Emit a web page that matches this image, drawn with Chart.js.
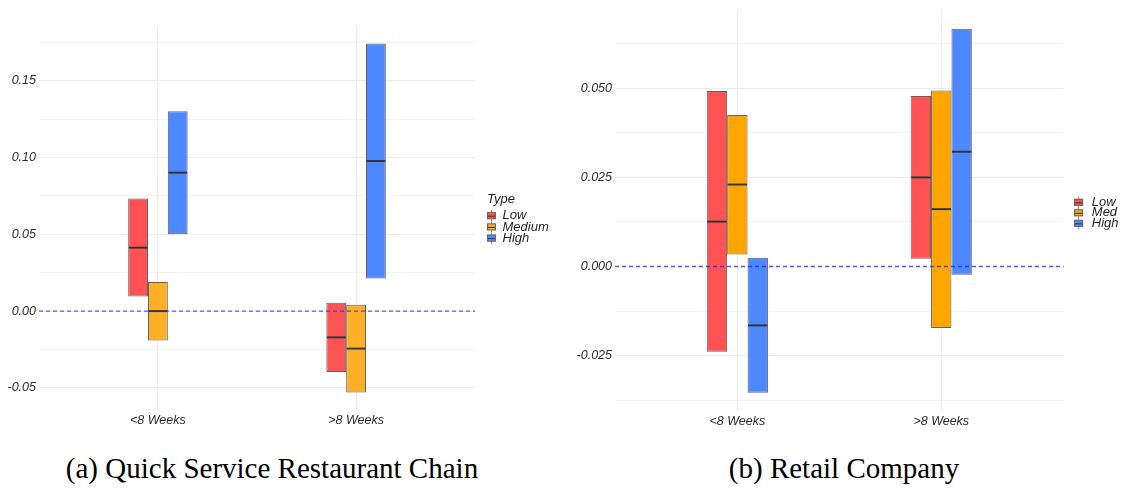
<!DOCTYPE html>
<html>
<head>
<meta charset="utf-8">
<script src="https://cdn.jsdelivr.net/npm/chart.js@4.4.1/dist/chart.umd.min.js"></script>
<style>
  html, body { margin: 0; padding: 0; background: #fff; }
  #fig { position: relative; width: 1121px; height: 491px; overflow: hidden; background: #fff; }
  #qsr { position: absolute; left: 0; top: 0; }
  #retail { position: absolute; left: 560px; top: 0; }
  .cap {
    position: absolute; top: 454px;
    font-family: "Liberation Serif", "Times New Roman", serif;
    font-size: 29px; line-height: 29px; color: #000;
    white-space: nowrap; transform: translateX(-50%);
  }
</style>
</head>
<body>
<div id="fig">
  <canvas id="qsr" width="560" height="440"></canvas>
  <canvas id="retail" width="561" height="440"></canvas>
  <div class="cap" style="left:272px">(a) Quick Service Restaurant Chain</div>
  <div class="cap" style="left:844px">(b) Retail Company</div>
</div>
<script>
// Duration groups shared by both panels
const weekGroups = ['<8 Weeks', '>8 Weeks'];

// (a) Quick service restaurant chain: [lower, upper] per group, and medians
const qsrTypes = ['Low', 'Medium', 'High'];
const qsrLowRange = [[0.0095, 0.0733], [-0.0396, 0.0054]];
const qsrLowMedian = [0.0413, -0.0171];
const qsrMediumRange = [[-0.0192, 0.0190], [-0.0530, 0.0041]];
const qsrMediumMedian = [0.0000, -0.0244];
const qsrHighRange = [[0.0501, 0.1300], [0.0212, 0.1742]];
const qsrHighMedian = [0.0901, 0.0977];
const qsrMajorTicks = [-0.05, 0, 0.05, 0.10, 0.15];
const qsrTickLabels = ['-0.05', '0.00', '0.05', '0.10', '0.15'];
const qsrMinorTicks = [-0.025, 0.025, 0.075, 0.125, 0.175];

// (b) Retail company
const retailTypes = ['Low', 'Med', 'High'];
const retailLowRange = [[-0.0239, 0.0492], [0.0022, 0.0478]];
const retailLowMedian = [0.0126, 0.0250];
const retailMedRange = [[0.0034, 0.0425], [-0.0172, 0.0494]];
const retailMedMedian = [0.0230, 0.0161];
const retailHighRange = [[-0.0354, 0.0025], [-0.0023, 0.0667]];
const retailHighMedian = [-0.0165, 0.0322];
const retailMajorTicks = [-0.025, 0, 0.025, 0.05];
const retailTickLabels = ['-0.025', '0.000', '0.025', '0.050'];
const retailMinorTicks = [-0.0375, -0.0125, 0.0125, 0.0375, 0.0625];

// Reference line
const zeroLine = 0;

Chart.defaults.font.family = '"Liberation Sans", Arial, sans-serif';
Chart.defaults.animation = false;

const TICK_FONT = { family: '"Liberation Sans", Arial, sans-serif', size: 12.5, style: 'italic' };
const TICK_COLOR = '#2b2b2b';
const GRID = '#ebebeb';

// Median bars and the dashed zero line, drawn on top of the boxes
const boxMarks = {
  id: 'boxMarks',
  afterDatasetsDraw(chart, args, o) {
    const ctx = chart.ctx, y = chart.scales.y, area = chart.chartArea;
    ctx.save();
    o.medians.forEach((vals, di) => {
      const meta = chart.getDatasetMeta(di);
      meta.data.forEach((bar, j) => {
        const py = y.getPixelForValue(vals[j]);
        const half = bar.width / 2;
        ctx.strokeStyle = '#333';
        ctx.lineWidth = 1.9;
        ctx.beginPath();
        ctx.moveTo(bar.x - half + 0.5, py);
        ctx.lineTo(bar.x + half - 0.5, py);
        ctx.stroke();
      });
    });
    const p0 = y.getPixelForValue(o.refValue);
    ctx.setLineDash([4, 3]);
    ctx.strokeStyle = 'rgba(35,35,255,0.75)';
    ctx.lineWidth = 1.4;
    ctx.beginPath();
    ctx.moveTo(area.left, p0);
    ctx.lineTo(area.right, p0);
    ctx.stroke();
    ctx.restore();
  }
};

// Legend with small box-plot keys
const boxLegend = {
  id: 'boxLegend',
  afterDraw(chart, args, o) {
    const ctx = chart.ctx;
    const x0 = chart.chartArea.right + o.offset;
    ctx.save();
    ctx.font = 'italic 13px "Liberation Sans", Arial, sans-serif';
    ctx.textBaseline = 'middle';
    ctx.textAlign = 'left';
    ctx.fillStyle = '#1e1e1e';
    if (o.title) ctx.fillText(o.title, x0, o.titleY);
    chart.data.datasets.forEach((ds, i) => {
      const cy = o.firstY + i * o.gap;
      ctx.strokeStyle = '#888';
      ctx.lineWidth = 1;
      ctx.beginPath();
      ctx.moveTo(x0 + 4.5, cy - 5.5);
      ctx.lineTo(x0 + 4.5, cy + 5.5);
      ctx.stroke();
      ctx.fillStyle = ds.backgroundColor;
      ctx.fillRect(x0, cy - 3.5, 9, 7);
      ctx.strokeStyle = '#666';
      ctx.strokeRect(x0 + 0.5, cy - 3, 8, 6);
      ctx.strokeStyle = '#333';
      ctx.beginPath();
      ctx.moveTo(x0 + 1, cy + 0.5);
      ctx.lineTo(x0 + 8, cy + 0.5);
      ctx.stroke();
      ctx.fillStyle = '#1e1e1e';
      ctx.fillText(ds.label, x0 + o.textGap, cy);
    });
    ctx.restore();
  }
};

function buildBoxChart(id, p) {
  const lows = p.ranges.flat().map(r => r[0]);
  const highs = p.ranges.flat().map(r => r[1]);
  const lo = Math.min(...lows), hi = Math.max(...highs);
  const pad = (hi - lo) * 0.05;
  const allTicks = p.major.concat(p.minor).sort((a, b) => a - b);
  const isMajor = v => p.major.some(m => Math.abs(m - v) < 1e-9);

  const datasets = p.types.map((t, i) => ({
    label: t,
    data: p.ranges[i].map((r, j) => ({ x: j + 1, y: [r[0], r[1]] })),
    backgroundColor: p.colors[i],
    borderColor: '#626262',
    borderWidth: 1,
    borderSkipped: false,
    categoryPercentage: 0.3,
    barPercentage: 1.0
  }));

  return new Chart(document.getElementById(id), {
    type: 'bar',
    data: { datasets },
    plugins: [boxMarks, boxLegend],
    options: {
      responsive: false,
      animation: false,
      layout: { padding: { top: p.padTop, right: p.padRight, left: 0, bottom: 0 } },
      plugins: {
        legend: { display: false },
        tooltip: { enabled: false },
        boxMarks: { medians: p.medians, refValue: zeroLine },
        boxLegend: p.legend
      },
      scales: {
        x: {
          type: 'linear',
          min: 1 - 0.6,
          max: weekGroups.length + 0.6,
          offset: false,
          grid: { color: GRID, lineWidth: 1, drawTicks: false, offset: false },
          border: { display: false },
          afterBuildTicks: s => { s.ticks = weekGroups.map((g, i) => ({ value: i + 1 })); },
          afterFit: s => { s.height = 440 - p.bottom; },
          ticks: {
            autoSkip: false, maxRotation: 0, padding: 3,
            font: TICK_FONT, color: TICK_COLOR,
            callback: v => weekGroups[Math.round(v) - 1]
          }
        },
        y: {
          type: 'linear',
          min: lo - pad,
          max: hi + pad,
          grid: {
            color: GRID, drawTicks: false,
            lineWidth: c => (c.tick && isMajor(c.tick.value)) ? 1 : 0.6
          },
          border: { display: false },
          afterBuildTicks: s => { s.ticks = allTicks.map(v => ({ value: v })); },
          afterFit: s => { s.width = p.axisWidth; },
          ticks: {
            autoSkip: false, padding: 3,
            font: TICK_FONT, color: TICK_COLOR,
            callback: v => {
              const k = p.major.findIndex(m => Math.abs(m - v) < 1e-9);
              return k >= 0 ? p.labels[k] : '';
            }
          }
        }
      }
    }
  });
}

buildBoxChart('qsr', {
  types: qsrTypes,
  ranges: [qsrLowRange, qsrMediumRange, qsrHighRange],
  medians: [qsrLowMedian, qsrMediumMedian, qsrHighMedian],
  colors: ['#ff5252', '#fdb026', '#4d88ff'],
  major: qsrMajorTicks, minor: qsrMinorTicks, labels: qsrTickLabels,
  padTop: 26, padRight: 85, axisWidth: 39, bottom: 410,
  legend: { title: 'Type', offset: 12, textGap: 15.5, titleY: 199, firstY: 215.7, gap: 11.2 }
});

buildBoxChart('retail', {
  types: retailTypes,
  ranges: [retailLowRange, retailMedRange, retailHighRange],
  medians: [retailLowMedian, retailMedMedian, retailHighMedian],
  colors: ['#ff5252', '#ffa500', '#4d88ff'],
  major: retailMajorTicks, minor: retailMinorTicks, labels: retailTickLabels,
  padTop: 8, padRight: 57.4, axisWidth: 55, bottom: 411,
  legend: { title: '', offset: 10.5, textGap: 17.7, titleY: 0, firstY: 202.3, gap: 10.5 }
});
</script>
</body>
</html>
